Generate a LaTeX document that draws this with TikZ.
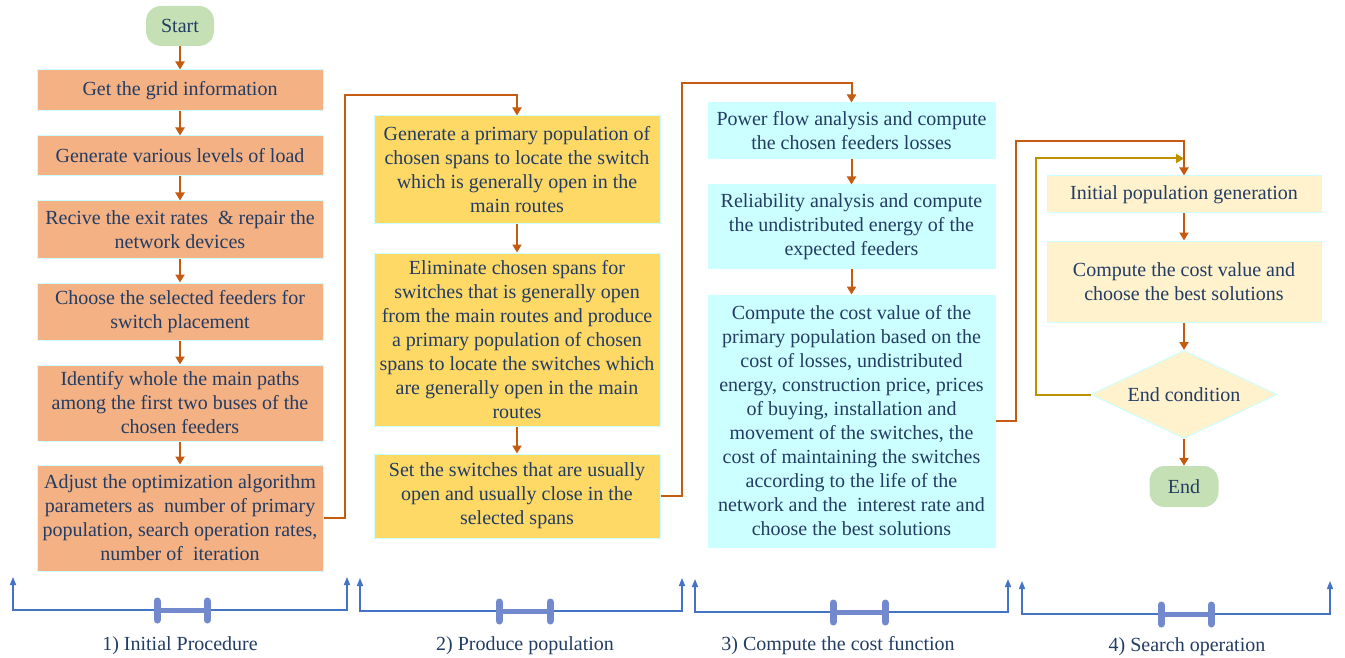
\documentclass[tikz,border=0pt]{standalone}
\usepackage{fontspec}
\setmainfont{Liberation Serif}
\newfontfamily\nodeserif{Liberation Serif}
\usetikzlibrary{arrows.meta,shapes.geometric,calc}
\definecolor{orangefill}{RGB}{244,177,131}
\definecolor{yellowfill}{RGB}{255,217,102}
\definecolor{cyanfill}{RGB}{204,255,255}
\definecolor{creamfill}{RGB}{255,242,204}
\definecolor{greenfill}{RGB}{197,224,180}
\definecolor{bordercol}{RGB}{204,255,255}
\definecolor{arrowcol}{RGB}{197,90,17}
\definecolor{loopcol}{RGB}{191,144,0}
\definecolor{bluecol}{RGB}{68,114,196}
\definecolor{bonecol}{RGB}{114,137,206}
\definecolor{textcol}{RGB}{35,60,100}
\begin{document}
\begin{tikzpicture}[x=1pt,y=-1pt,
  every node/.style={text=textcol,font=\nodeserif\fontsize{20}{24}\selectfont},
  boxbase/.style={draw=bordercol,line width=1pt,align=center,inner sep=2pt,minimum width=286pt},
  orangebox/.style={boxbase,fill=orangefill},
  yellowbox/.style={boxbase,fill=yellowfill},
  cyanbox/.style={boxbase,fill=cyanfill,minimum width=287pt},
  creambox/.style={boxbase,fill=creamfill,minimum width=274pt},
  terminal/.style={fill=greenfill,rounded corners=15pt,minimum width=68pt,minimum height=40pt,inner sep=2pt},
  decision/.style={diamond,draw=bordercol,line width=1pt,fill=creamfill,aspect=2.11,minimum width=186pt,minimum height=88pt,inner sep=0pt},
  arr/.style={draw=arrowcol,line width=2pt,-{Triangle[length=8pt,width=9pt]}},
  looparr/.style={draw=loopcol,line width=2pt,-{Triangle[length=8pt,width=9pt]}},
  bline/.style={draw=bluecol,line width=1.5pt,{Triangle[length=8pt,width=6pt]}-{Triangle[length=8pt,width=6pt]}},
  bonebar/.style={draw=bonecol,line width=5pt},
  bonecap/.style={draw=bonecol,line width=7pt,line cap=round},
  grouplabel/.style={inner sep=0pt}
]
\useasboundingbox (0,0) rectangle (1345,658);

% Column 1
\node[terminal] (start) at (180,26) {Start};
\node[orangebox,minimum height=41pt] (b1) at (180,90.5) {Get the grid information};
\node[orangebox,minimum height=40pt] (b2) at (180,156) {Generate various levels of load};
\node[orangebox,minimum height=57pt] (b3) at (180,229.5) {Recive the exit rates~ \& repair the\\network devices};
\node[orangebox,minimum height=57pt] (b4) at (180,311.5) {Choose the selected feeders for\\switch placement};
\node[orangebox,minimum height=76pt] (b5) at (180,403) {Identify whole the main paths\\among the first two buses of the\\chosen feeders};
\node[orangebox,minimum height=106pt] (b6) at (180,518) {Adjust the optimization algorithm\\parameters as~ number of primary\\population, search operation rates,\\number of~ iteration};

% Column 2
\node[yellowbox,minimum height=107pt] (a1) at (517,169.5) {Generate a primary population of\\chosen spans to locate the switch\\which is generally open in the\\main routes};
\node[yellowbox,minimum height=173pt] (a2) at (517,339.5) {Eliminate chosen spans for\\switches that is generally open\\from the main routes and produce\\a primary population of chosen\\spans to locate the switches which\\are generally open in the main\\routes};
\node[yellowbox,minimum height=84pt] (a3) at (517,496) {Set the switches that are usually\\open and usually close in the\\selected spans};

% Column 3
\node[cyanbox,minimum height=56pt] (d1) at (851.5,131) {Power flow analysis and compute\\the chosen feeders losses};
\node[cyanbox,minimum height=83pt] (d2) at (851.5,226.5) {Reliability analysis and compute\\the undistributed energy of the\\expected feeders};
\node[cyanbox,minimum height=252pt] (d3) at (851.5,421) {Compute the cost value of the\\primary population based on the\\cost of losses, undistributed\\energy, construction price, prices\\of buying, installation and\\movement of the switches, the\\cost of maintaining the switches\\according to the life of the\\network and the~ interest rate and\\choose the best solutions};

% Column 4
\node[creambox,minimum height=37pt] (g1) at (1184,194.5) {Initial population generation};
\node[creambox,minimum height=81pt] (g2) at (1184,281.5) {Compute the cost value and\\choose the best solutions};
\node[decision] (dia) at (1184,394.5) {End condition};
\node[terminal,minimum width=69pt,minimum height=41pt] (endn) at (1184,486.5) {End};

% Connectors
\draw[arr] (start) -- (b1);
\draw[arr] (b1) -- (b2);
\draw[arr] (b2) -- (b3);
\draw[arr] (b3) -- (b4);
\draw[arr] (b4) -- (b5);
\draw[arr] (b5) -- (b6);
\draw[arr] (b6.east) -- ++(21,0) |- ([yshift=20pt]a1.north) -- (a1.north);
\draw[arr] (a1) -- (a2);
\draw[arr] (a2) -- (a3);
\draw[arr] (a3.east) -- ++(21,0) |- ([yshift=19pt]d1.north) -- (d1.north);
\draw[arr] (d1) -- (d2);
\draw[arr] (d2) -- (d3);
\draw[arr] (d3.east) -- ++(20,0) |- ([yshift=34pt]g1.north) -- (g1.north);
\draw[arr] (g1) -- (g2);
\draw[arr] (g2) -- (dia);
\draw[arr] (dia) -- (endn);
\coordinate (lp) at ([yshift=17pt]g1.north);
\draw[looparr] (dia.west) -- ++(-55,0) |- (lp);

% Bottom brackets
\draw[bline] (13,577) -- (13,610) -- (347,610) -- (347,577);
\draw[bonebar] (157,610) -- (207,610);
\draw[bonecap] (157,601) -- (157,620);
\draw[bonecap] (207,601) -- (207,620);
\node[grouplabel] (l1) at (180,646) {1) Initial Procedure};

\draw[bline] (360,578) -- (360,611) -- (682,611) -- (682,578);
\draw[bonebar] (499,611) -- (550,611);
\draw[bonecap] (499,602) -- (499,621);
\draw[bonecap] (550,602) -- (550,621);
\node[grouplabel] (l2) at (525,646) {2) Produce population};

\draw[bline] (695,579) -- (695,612) -- (1008,612) -- (1008,579);
\draw[bonebar] (833,612) -- (885,612);
\draw[bonecap] (833,603) -- (833,622);
\draw[bonecap] (885,603) -- (885,622);
\node[grouplabel] (l3) at (838,646) {3) Compute the cost function};

\draw[bline] (1022,581) -- (1022,614) -- (1330,614) -- (1330,581);
\draw[bonebar] (1161,614) -- (1211,614);
\draw[bonecap] (1161,605) -- (1161,624);
\draw[bonecap] (1211,605) -- (1211,624);
\node[grouplabel] (l4) at (1187,647) {4) Search operation};
\end{tikzpicture}
\end{document}
